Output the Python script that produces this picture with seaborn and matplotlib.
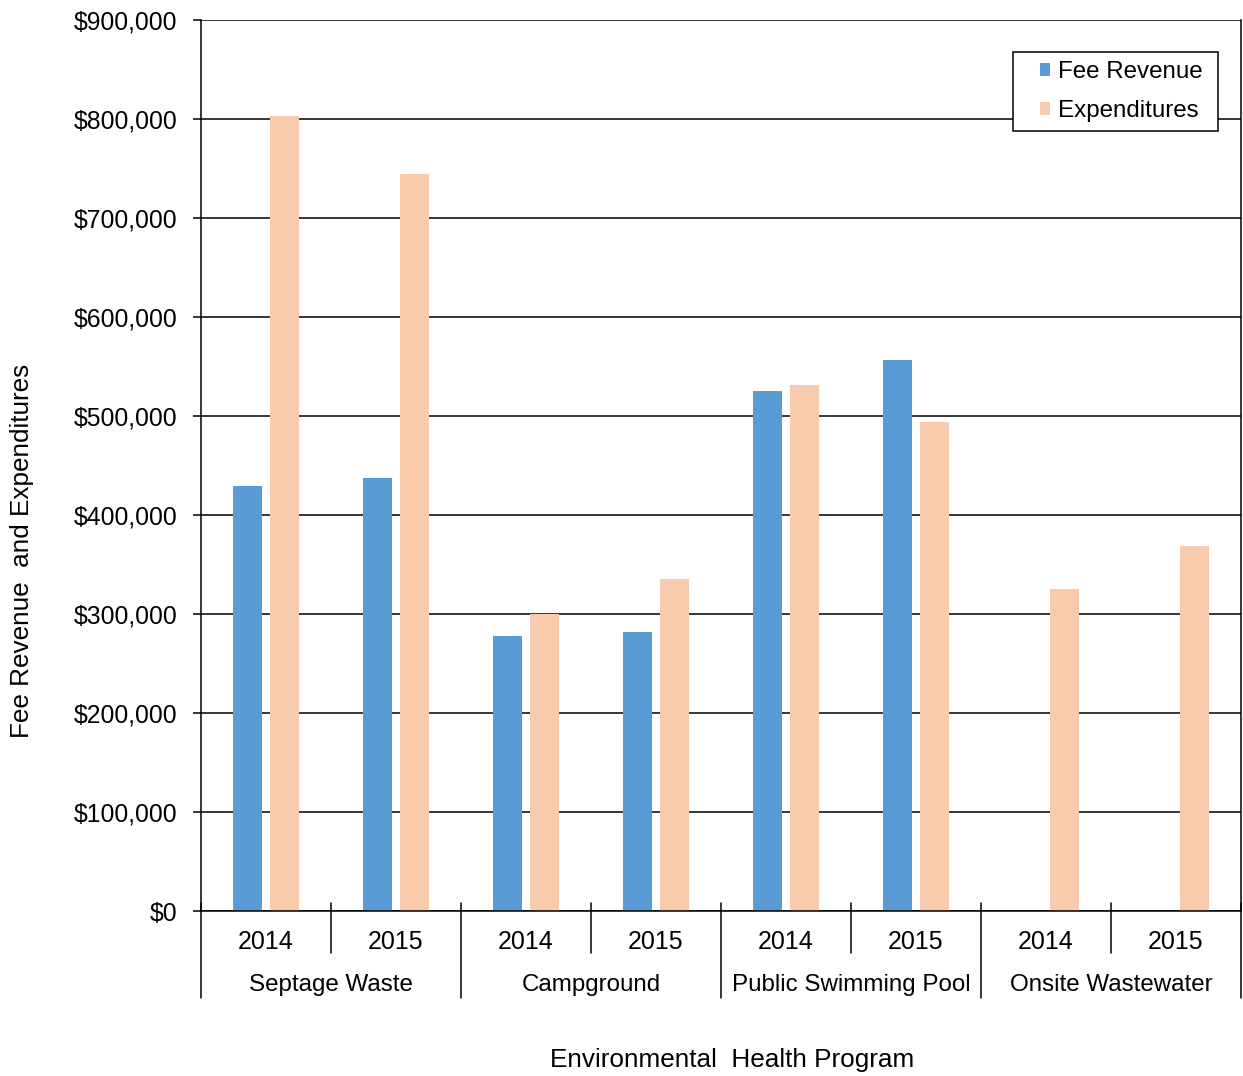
import pandas as pd
import numpy as np
import matplotlib.pyplot as plt
import matplotlib.ticker as mticker
import seaborn as sns

# ---------------------------------------------
# Data
# ---------------------------------------------
programs = ['Septage Waste', 'Campground', 'Public Swimming Pool', 'Onsite Wastewater']
years = ['2014', '2015']
fee_revenue = [429000, 437000, 278000, 282000, 525000, 557000, 0, 0]
expenditures = [803000, 744000, 300000, 335000, 531000, 494000, 325000, 369000]

rows = []
for i, prog in enumerate(programs):
    for j, yr in enumerate(years):
        k = i * len(years) + j
        rows.append({'slot': f'{prog} {yr}', 'series': 'Fee Revenue', 'value': fee_revenue[k]})
        rows.append({'slot': f'{prog} {yr}', 'series': 'Expenditures', 'value': expenditures[k]})
df = pd.DataFrame(rows)
slots = list(dict.fromkeys(df['slot']))

# ---------------------------------------------
# Plot
# ---------------------------------------------
sns.set_style('white')
plt.rcParams['font.family'] = ['Liberation Sans', 'DejaVu Sans']
plt.rcParams['text.color'] = 'black'
fs = 17.4

fig = plt.figure(figsize=(12.43, 10.76), dpi=100)
ax = fig.add_axes([0.1617, 0.1533, 0.8367, 0.8281])

sns.barplot(data=df, x='slot', y='value', hue='series', order=slots,
            hue_order=['Fee Revenue', 'Expenditures'],
            palette={'Fee Revenue': '#5B9BD5', 'Expenditures': '#F8CBAD'},
            width=0.56, gap=0.21, linewidth=0, saturation=1, ax=ax)

ax.set_ylim(0, 900000)
ax.set_xlim(-0.5, len(slots) - 0.5)
ax.yaxis.set_major_locator(mticker.MultipleLocator(100000))
ax.yaxis.set_major_formatter(mticker.FuncFormatter(lambda v, p: f'${v:,.0f}'))
ax.grid(axis='y', color='black', linewidth=1.1)
ax.set_axisbelow(True)

ax.spines['top'].set_visible(False)
for side in ['left', 'right', 'bottom']:
    ax.spines[side].set_color('black')
    ax.spines[side].set_linewidth(1.1)

ax.tick_params(axis='y', which='major', left=True, length=6, width=1.1,
               pad=11, labelsize=17.8, colors='black')
ax.tick_params(axis='x', bottom=False, labelbottom=False)

# multi-level category axis
trans = ax.get_xaxis_transform()
for k, slot in enumerate(slots):
    ax.text(k, -0.0345, years[k % len(years)], transform=trans,
            ha='center', va='center', fontsize=18)
for i, prog in enumerate(programs):
    center = i * len(years) + (len(years) - 1) / 2
    ax.text(center, -0.083, prog, transform=trans,
            ha='center', va='center', fontsize=fs)
for k in range(len(slots) + 1):
    x = k - 0.5
    bottom = -0.0976 if k % len(years) == 0 else -0.047
    ax.plot([x, x], [0.009, bottom], transform=trans, color='black',
            linewidth=1.1, clip_on=False)

ax.set_xlabel('')
ax.set_ylabel('')
fig.text(0.0177, 0.488, 'Fee Revenue  and Expenditures', rotation=90,
         ha='center', va='center', fontsize=18.8)
fig.text(0.589, 1 - 1060 / 1076, 'Environmental  Health Program',
         ha='center', va='center', fontsize=18.8)

leg = ax.legend(loc='upper right', bbox_to_anchor=(0.978, 0.964),
                borderaxespad=0, fontsize=fs, frameon=True, fancybox=False,
                framealpha=1, edgecolor='black', handlelength=1.9,
                handleheight=0.45, handletextpad=-0.4, labelspacing=0.72,
                borderpad=0.36, title=None)
leg.get_frame().set_linewidth(1.1)
for t in leg.get_texts():
    t.set_text(t.get_text() + ' ')
for h in leg.legend_handles:
    # shrink the patch to a small square centred in the handle box
    h.set_width(7.2)
    h.set_x(h.get_x() + (1.9 * fs - 7.2) / 2)

fig.savefig('out.png', dpi=100)
